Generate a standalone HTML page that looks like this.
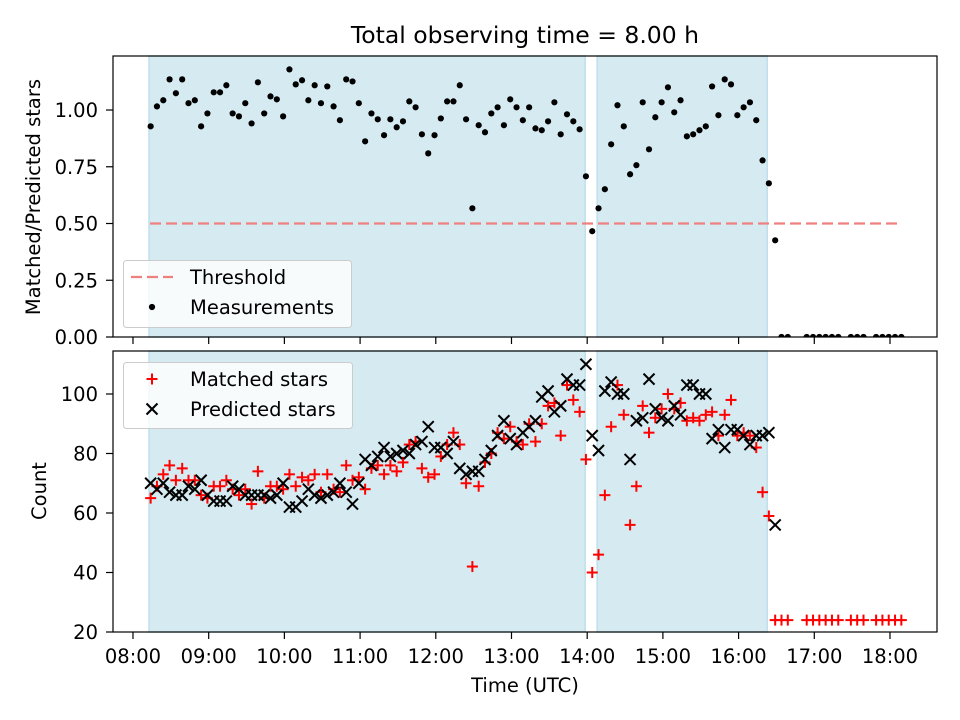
<!DOCTYPE html>
<html><head><meta charset="utf-8"><style>
body{margin:0;background:#fff}
svg{display:block;font-family:"DejaVu Sans","Liberation Sans",sans-serif}
</style></head><body>
<svg id="chart" width="960" height="720" viewBox="0 0 960 720" xmlns="http://www.w3.org/2000/svg"></svg>
<script>
// minutes after 08:00
const timesMin = [14,19,24,29,34,39,44,49,54,59,64,69,74,79,84,89,94,99,104,109,114,119,124,129,134,139,144,149,154,159,164,169,174,179,184,189,194,199,204,209,214,219,224,229,234,239,244,249,254,259,264,269,274,279,284,289,294,299,304,309,314,319,324,329,334,339,344,349,354,359,364,369,374,379,384,389,394,399,404,409,414,419,424,429,434,439,444,449,454,459,464,469,474,479,484,489,494,499,504,509,514,519,534,539,544,549,554,559,569,574,579,589,594,599,604,609];
const ratioValues = [0.928,1.016,1.043,1.135,1.074,1.135,1.030,1.043,0.928,0.985,1.078,1.078,1.109,0.985,0.972,1.030,0.941,1.122,0.985,1.060,1.047,0.972,1.179,1.113,1.131,1.043,1.109,1.030,1.104,1.016,0.955,1.135,1.126,1.030,0.862,0.985,0.959,0.889,0.959,0.924,0.950,1.038,1.012,0.893,0.809,0.889,0.963,1.038,1.038,1.109,0.959,0.567,0.933,0.902,0.985,1.012,0.933,1.047,1.012,0.955,1.012,0.919,0.911,0.950,1.034,0.893,0.981,0.950,0.915,0.708,0.466,0.567,0.651,0.849,1.021,0.928,0.717,0.757,1.034,0.827,0.968,1.034,1.100,0.990,1.043,0.884,0.893,0.911,0.928,1.104,0.977,1.135,1.113,0.977,1.012,1.034,0.955,0.778,0.677,0.426,0,0,0,0,0,0,0,0,0,0,0,0,0,0,0,0];
const matchedValues = [65,69,73,76,71,75,71,71,66,65,69,69,71,68,66,68,63,74,65,69,69,68,73,69,72,71,73,67,73,68,67,76,71,72,68,75,76,73,76,74,77,83,84,75,72,73,79,83,87,83,70,42,69,77,80,87,85,89,84,83,90,84,90,96,97,86,103,98,94,78,40,46,66,89,103,93,56,69,96,87,92,95,100,95,97,91,92,91,93,94,86,93,98,86,87,86,82,67,59,24,24,24,24,24,24,24,24,24,24,24,24,24,24,24,24,24];
const predictedValues = [70,68,70,67,66,66,69,68,71,66,64,64,64,69,68,66,66,66,66,65,66,70,62,62,64,68,66,65,66,67,70,67,63,70,78,76,79,82,79,80,81,80,83,84,89,82,82,80,84,75,73,74,74,78,81,86,91,85,83,87,89,91,99,101,94,96,105,103,103,110,86,81,101,104,100,100,78,91,92,105,95,92,91,96,93,103,103,100,100,85,88,82,88,88,86,83,86,86,87,56];
const spans = [[12.7,358.4],[367.9,502.7]];
const threshold = 0.5, thrStart = 13.5, thrEnd = 608;
const xTickLabels = ["08:00","09:00","10:00","11:00","12:00","13:00","14:00","15:00","16:00","17:00","18:00"];
const topTicks = [0,0.25,0.5,0.75,1.0];
const botTicks = [20,40,60,80,100];

const NS="http://www.w3.org/2000/svg";
const svg=document.getElementById('chart');
function mk(tag,attrs,parent){const e=document.createElementNS(NS,tag);for(const k in attrs)e.setAttribute(k,attrs[k]);(parent||svg).appendChild(e);return e;}
const L=113,R=937;
const FS=19.5;
const xMinMin=(7.736-8)*60, xMaxMin=(18.621-8)*60;
function X(m){return L+(m-xMinMin)/(xMaxMin-xMinMin)*(R-L);}
const T={top:56,bot:337,min:0,max:1.238};
const B={top:351,bot:632,min:20,max:114.45};
function YT(v){return T.bot-(v-T.min)/(T.max-T.min)*(T.bot-T.top);}
function YB(v){return B.bot-(v-B.min)/(B.max-B.min)*(B.bot-B.top);}

function panel(P,Y,ticks,fmt,name,showX){
  const g=mk('g',{});
  
  
  const clip=mk('clipPath',{id:'clip-'+name},g);
  mk('rect',{x:L,y:P.top,width:R-L,height:P.bot-P.top},clip);
  spans.forEach((s,i)=>{const r=mk('rect',{x:X(s[0]),y:P.top,width:X(s[1])-X(s[0]),height:P.bot-P.top,fill:'#d5eaf1',stroke:'#bfe0ea','stroke-width':1.5},g);
    
    });
  ticks.forEach(v=>{const y=Y(v);
    mk('line',{x1:L-7,x2:L,y1:y,y2:y,stroke:'#000','stroke-width':1.2},g);
    const t=mk('text',{x:L-15,y:y+7,'text-anchor':'end','font-size':FS},g);t.textContent=fmt(v);
    
    });
  xTickLabels.forEach((lab,i)=>{const x=X(i*60);
    mk('line',{x1:x,x2:x,y1:P.bot,y2:P.bot+7,stroke:'#000','stroke-width':1.2},g);
    if(showX){const t=mk('text',{x:x,y:P.bot+31,'text-anchor':'middle','font-size':FS},g);t.textContent=lab;
      
      }});
  return g;
}
const gt=panel(T,YT,topTicks,v=>v.toFixed(2),'ratio-panel',false);
const gb=panel(B,YB,botTicks,v=>String(v),'count-panel',true);

const th=mk('line',{x1:X(thrStart),x2:X(thrEnd),y1:YT(threshold),y2:YT(threshold),stroke:'#f08080','stroke-width':2.2,'stroke-dasharray':'11,5'},gt);


const gm=mk('g',{'clip-path':'url(#clip-ratio-panel)'},gt);
ratioValues.forEach((v,i)=>{const c=mk('circle',{cx:X(timesMin[i]),cy:YT(v),r:3.1,fill:'#000'},gm);
  
  });
const gc=mk('g',{'clip-path':'url(#clip-count-panel)'},gb);
function plus(x,y,p){const g=mk('g',{stroke:'#ff0000','stroke-width':2},p);mk('line',{x1:x-5.5,x2:x+5.5,y1:y,y2:y},g);mk('line',{x1:x,x2:x,y1:y-5.5,y2:y+5.5},g);return g;}
function cross(x,y,p){const g=mk('g',{stroke:'#000','stroke-width':2},p);mk('line',{x1:x-5.5,x2:x+5.5,y1:y-5.5,y2:y+5.5},g);mk('line',{x1:x-5.5,x2:x+5.5,y1:y+5.5,y2:y-5.5},g);return g;}
matchedValues.forEach((v,i)=>{const g=plus(X(timesMin[i]),YB(v),gc);
  
  });
predictedValues.forEach((v,i)=>{const g=cross(X(timesMin[i]),YB(v),gc);
  
  });

[T,B].forEach(P=>mk('rect',{x:L,y:P.top,width:R-L,height:P.bot-P.top,fill:'none',stroke:'#000','stroke-width':1.2}));

const lg1=mk('g',{});


mk('rect',{x:123.5,y:260.5,width:228,height:67,rx:3,fill:'rgba(255,255,255,0.8)',stroke:'#ccc'},lg1);
mk('line',{x1:131,x2:173,y1:277,y2:277,stroke:'#f08080','stroke-width':2.2,'stroke-dasharray':'11,5'},lg1);
let t=mk('text',{x:190,y:284,'font-size':FS},lg1);t.textContent='Threshold';
mk('circle',{cx:152,cy:307,r:3.1,fill:'#000'},lg1);
t=mk('text',{x:190,y:314,'font-size':FS},lg1);t.textContent='Measurements';
const lg2=mk('g',{});


mk('rect',{x:123.5,y:362.5,width:229,height:66,rx:3,fill:'rgba(255,255,255,0.8)',stroke:'#ccc'},lg2);
plus(152,379,lg2);
t=mk('text',{x:190,y:386,'font-size':FS},lg2);t.textContent='Matched stars';
cross(152,409,lg2);
t=mk('text',{x:190,y:416,'font-size':FS},lg2);t.textContent='Predicted stars';

t=mk('text',{x:525,y:43,'text-anchor':'middle','font-size':23.5});t.textContent='Total observing time = 8.00 h';

t=mk('text',{x:0,y:0,'text-anchor':'middle','font-size':FS,transform:'translate(40,197) rotate(-90)'});t.textContent='Matched/Predicted stars';

t=mk('text',{x:0,y:0,'text-anchor':'middle','font-size':FS,transform:'translate(46,491) rotate(-90)'});t.textContent='Count';

t=mk('text',{x:525,y:692,'text-anchor':'middle','font-size':FS});t.textContent='Time (UTC)';

</script>
</body></html>
